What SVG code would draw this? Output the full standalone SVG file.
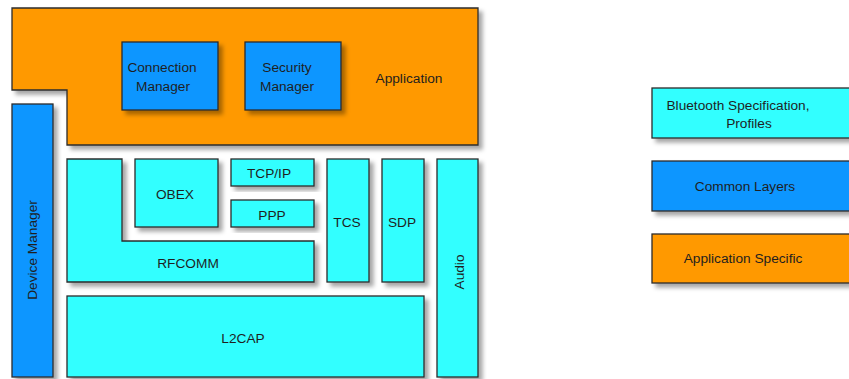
<svg xmlns="http://www.w3.org/2000/svg" width="849" height="379" viewBox="0 0 849 379">
  <defs>
    <filter id="shadow" x="-10%" y="-10%" width="130%" height="130%">
      <feDropShadow dx="4" dy="4" stdDeviation="2" flood-color="#000" flood-opacity="0.35"/>
    </filter>
  </defs>
  <style>
    .box { stroke: #2b2b2b; stroke-width: 1.3; filter: url(#shadow); }
    .app { fill: #ff9900; }
    .common { fill: #0d96ff; }
    .spec { fill: #33ffff; }
    text { font-family: "Liberation Sans", Arial, sans-serif; font-size: 13.7px; fill: #1f1f1f; text-anchor: middle; }
  </style>
  <rect width="849" height="379" fill="#ffffff"/>

  <!-- Application layer -->
  <g id="application">
    <path class="box app" d="M12,8 H478 V145 H67 V90 H12 Z"/>
    <text x="409" y="83">Application</text>
  </g>
  <g id="connection-manager">
    <rect class="box common" x="122" y="42" width="96" height="68"/>
    <text x="162" y="71.8">Connection</text>
    <text x="163" y="90.8">Manager</text>
  </g>
  <g id="security-manager">
    <rect class="box common" x="245" y="42" width="96" height="68"/>
    <text x="287" y="71.8">Security</text>
    <text x="287" y="90.8">Manager</text>
  </g>

  <!-- Device manager column -->
  <g id="device-manager">
    <rect class="box common" x="12" y="104" width="41" height="273"/>
    <text transform="translate(36.8,250) rotate(-90)">Device Manager</text>
  </g>

  <!-- Protocol stack -->
  <g id="rfcomm">
    <path class="box spec" d="M67,159 H122 V241 H314 V282 H67 Z"/>
    <text x="188" y="267.8">RFCOMM</text>
  </g>
  <g id="obex">
    <rect class="box spec" x="135" y="159" width="83" height="68"/>
    <text x="175" y="198.8">OBEX</text>
  </g>
  <g id="tcpip">
    <rect class="box spec" x="231" y="159" width="83" height="27"/>
    <text x="269" y="177.8">TCP/IP</text>
  </g>
  <g id="ppp">
    <rect class="box spec" x="231" y="200" width="83" height="27"/>
    <text x="272" y="219.8">PPP</text>
  </g>
  <g id="tcs">
    <rect class="box spec" x="327" y="159" width="42" height="123"/>
    <text x="347" y="226.8">TCS</text>
  </g>
  <g id="sdp">
    <rect class="box spec" x="382" y="159" width="42" height="123"/>
    <text x="402" y="226.8">SDP</text>
  </g>
  <g id="audio">
    <rect class="box spec" x="437" y="159" width="41" height="218"/>
    <text transform="translate(463.8,272) rotate(-90)">Audio</text>
  </g>
  <g id="l2cap">
    <rect class="box spec" x="67" y="296" width="357" height="81"/>
    <text x="243" y="342.8">L2CAP</text>
  </g>

  <!-- Legend -->
  <g id="legend-spec">
    <rect class="box spec" x="652" y="88" width="210" height="50"/>
    <text x="738" y="109.8">Bluetooth Specification,</text>
    <text x="749" y="127.8">Profiles</text>
  </g>
  <g id="legend-common">
    <rect class="box common" x="652" y="161" width="210" height="50"/>
    <text x="745" y="190.8">Common Layers</text>
  </g>
  <g id="legend-app">
    <rect class="box app" x="652" y="234" width="210" height="49"/>
    <text x="743" y="262.8">Application Specific</text>
  </g>

  <g id="connectors"/>
</svg>
